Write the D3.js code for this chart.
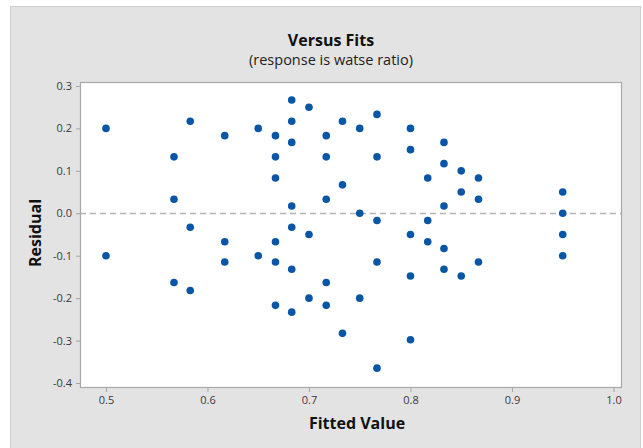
<!DOCTYPE html>
<html>
<head>
<meta charset="utf-8">
<script src="https://cdn.jsdelivr.net/npm/d3@7"></script>
<style>
  html, body { margin: 0; padding: 0; background: #ffffff; }
  svg { display: block; }
</style>
</head>
<body>
<svg id="chart" width="643" height="448"></svg>
<script>
// Fitted values and their residuals (one entry per observation)
const fitted = [
  0.500, 0.500,
  0.567, 0.567, 0.567,
  0.583, 0.583, 0.583,
  0.617, 0.617, 0.617,
  0.650, 0.650,
  0.667, 0.667, 0.667, 0.667, 0.667, 0.667,
  0.683, 0.683, 0.683, 0.683, 0.683, 0.683, 0.683,
  0.700, 0.700, 0.700,
  0.717, 0.717, 0.717, 0.717, 0.717,
  0.733, 0.733, 0.733,
  0.750, 0.750, 0.750,
  0.767, 0.767, 0.767, 0.767, 0.767,
  0.800, 0.800, 0.800, 0.800, 0.800,
  0.817, 0.817, 0.817,
  0.833, 0.833, 0.833, 0.833, 0.833,
  0.850, 0.850, 0.850,
  0.867, 0.867, 0.867,
  0.950, 0.950, 0.950, 0.950
];
const residual = [
  0.200, -0.100,
  0.133, 0.033, -0.163,
  0.217, -0.033, -0.182,
  0.183, -0.067, -0.115,
  0.200, -0.100,
  0.183, 0.133, 0.083, -0.067, -0.115, -0.217,
  0.267, 0.217, 0.167, 0.017, -0.033, -0.132, -0.233,
  0.250, -0.050, -0.200,
  0.183, 0.133, 0.033, -0.163, -0.217,
  0.217, 0.067, -0.283,
  0.200, 0.000, -0.200,
  0.233, 0.133, -0.017, -0.115, -0.365,
  0.200, 0.150, -0.050, -0.148, -0.298,
  0.083, -0.017, -0.067,
  0.167, 0.117, 0.017, -0.083, -0.132,
  0.100, 0.050, -0.148,
  0.083, 0.033, -0.115,
  0.050, 0.000, -0.050, -0.100
];
const xTicks = [0.5, 0.6, 0.7, 0.8, 0.9, 1.0];
const yTicks = [0.3, 0.2, 0.1, 0.0, -0.1, -0.2, -0.3, -0.4];

const titleText = "Versus Fits";
const subtitleText = "(response is watse ratio)";
const xLabel = "Fitted Value";
const yLabel = "Residual";

const svg = d3.select("#chart");
const W = 643, H = 448;
const plot = { left: 80, right: 622, top: 82, bottom: 388 };
const font = "'Open Sans', 'Noto Sans', sans-serif";

// Grey outer panel
svg.append("rect")
  .attr("x", 10.5).attr("y", 6.5)
  .attr("width", 630).attr("height", H)
  .attr("fill", "#e3e3e3")
  .attr("stroke", "#cdcdcd").attr("stroke-width", 1);

// Scales
const x = d3.scaleLinear().domain([0.4744, 1.0084]).range([plot.left, plot.right]);
const y = d3.scaleLinear().domain([-0.4118, 0.3094]).range([plot.bottom, plot.top]);

// White data region
svg.append("rect")
  .attr("x", plot.left).attr("y", plot.top)
  .attr("width", plot.right - plot.left).attr("height", plot.bottom - plot.top)
  .attr("fill", "#ffffff");

// Reference line at zero residual
svg.append("line")
  .attr("x1", plot.left).attr("x2", plot.right)
  .attr("y1", Math.round(y(0)) + 0.5).attr("y2", Math.round(y(0)) + 0.5)
  .attr("stroke", "#b4b4b4").attr("stroke-width", 1.3)
  .attr("stroke-dasharray", "6,4");

// Axes (plain hyphen for negative labels)
const fmt = d => d.toFixed(1);
const xAxis = d3.axisBottom(x).tickValues(xTicks).tickFormat(fmt)
  .tickSizeInner(4).tickSizeOuter(0).tickPadding(4);
const yAxis = d3.axisLeft(y).tickValues(yTicks).tickFormat(fmt)
  .tickSizeInner(4).tickSizeOuter(0).tickPadding(4);

function styleAxis(g) {
  g.select(".domain").remove();
  g.selectAll(".tick line").attr("stroke", "#a6a6a6");
  g.selectAll(".tick text")
    .attr("fill", "#3a3a3a")
    .style("font-family", font)
    .style("font-size", "11px");
}

svg.append("g")
  .attr("transform", `translate(0,${plot.bottom})`)
  .call(xAxis).call(styleAxis);
svg.append("g")
  .attr("transform", `translate(${plot.left},0)`)
  .call(yAxis).call(styleAxis);

// Plot frame
svg.append("rect")
  .attr("x", plot.left + 0.5).attr("y", plot.top + 0.5)
  .attr("width", plot.right - plot.left - 1).attr("height", plot.bottom - plot.top - 1)
  .attr("fill", "none").attr("stroke", "#a8a8a8").attr("stroke-width", 1.2);

// Points
const pts = fitted.map((f, i) => ({ f, r: residual[i] }));
svg.append("g").selectAll("circle")
  .data(pts).join("circle")
  .attr("cx", d => x(d.f))
  .attr("cy", d => y(d.r))
  .attr("r", 3.8)
  .attr("fill", "#0a56a6");

// Titles
svg.append("text")
  .attr("x", 331).attr("y", 46)
  .attr("text-anchor", "middle")
  .style("font-family", font).style("font-size", "16px").style("font-weight", "bold")
  .attr("fill", "#111")
  .text(titleText);
svg.append("text")
  .attr("x", 331).attr("y", 65)
  .attr("text-anchor", "middle")
  .style("font-family", font).style("font-size", "14.5px")
  .attr("fill", "#222")
  .text(subtitleText);

// Axis labels
svg.append("text")
  .attr("x", 357).attr("y", 429)
  .attr("text-anchor", "middle")
  .style("font-family", font).style("font-size", "16px").style("font-weight", "bold")
  .attr("fill", "#111")
  .text(xLabel);
svg.append("text")
  .attr("transform", `translate(41,233) rotate(-90)`)
  .attr("text-anchor", "middle")
  .style("font-family", font).style("font-size", "16px").style("font-weight", "bold")
  .attr("fill", "#111")
  .text(yLabel);
</script>
</body>
</html>
